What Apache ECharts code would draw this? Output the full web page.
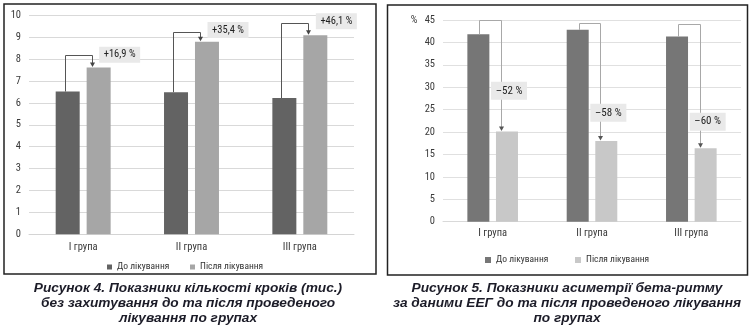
<!DOCTYPE html>
<html><head><meta charset="utf-8">
<script src="https://cdn.jsdelivr.net/npm/echarts@6/dist/echarts.min.js"></script>
<style>html,body{margin:0;padding:0;background:#fff}#c{width:752px;height:325px}</style>
</head><body><div id="c"></div>
<script>
var categories = ['I група', 'II група', 'III група'];
var seriesNames = ['До лікування', 'Після лікування'];
// Figure 4: steps (thousands)
var stepsBefore = [6.52, 6.49, 6.22];
var stepsAfter = [7.62, 8.79, 9.09];
var stepsChange = ['+16,9 %', '+35,4 %', '+46,1 %'];
var stepsBracket = [8.19, 9.25, 9.63];
var stepsLabelLevel = [8.2, 9.33, 9.73];
var stepsTicks = [0, 10, 1];
// Figure 5: beta-rhythm asymmetry (%)
var asymBefore = [41.8, 42.8, 41.3];
var asymAfter = [20.1, 18.0, 16.4];
var asymChange = ['\u201352 %', '\u201358 %', '\u201360 %'];
var asymBracket = [44.9, 44.3, 44.1];
var asymLabelLevel = [29.2, 24.3, 22.3];
var asymTicks = [0, 45, 5];
var asymUnit = '%';
var caption1 = 'Рисунок 4. Показники кількості кроків (тис.)\nбез захитування до та після проведеного\nлікування по групах';
var caption2 = 'Рисунок 5. Показники асиметрії бета-ритму\nза даними ЕЕГ до та після проведеного лікування\nпо групах';

var NARROW = "'Roboto Condensed','DejaVu Sans Condensed',sans-serif";
var CAPTION_FONT = "'Liberation Sans',Arial,sans-serif";

function annotData(before, after, bracket, level) {
  return categories.map(function (c, i) { return [i, before[i], after[i], bracket[i], level[i]]; });
}

function makeAnnot(cfg, labels) {
  return function (params, api) {
    var i = params.dataIndex;
    var cat = api.value(0);
    var half = (cfg.bw + cfg.gap) / 2;
    var d = api.coord([cat, api.value(1)]);
    var l = api.coord([cat, api.value(2)]);
    var yb = api.coord([cat, api.value(3)])[1];
    var yl = api.coord([cat, api.value(4)])[1];
    var darkC = d[0] - half, lightC = l[0] + half;
    var xs = Math.round(darkC + cfg.startOff) + 0.5;
    var xe = Math.round(lightC + cfg.endOff) + 0.5;
    var ybr = Math.round(yb) + 0.5;
    var lt = l[1];
    var bx = cfg.boxCenter ? lightC + cfg.boxDx - cfg.boxW / 2 : lightC + cfg.boxDx;
    return {
      type: 'group',
      children: [
        { type: 'polyline', shape: { points: [[xs, d[1]], [xs, ybr], [xe, ybr], [xe, lt - 4]] },
          style: { stroke: cfg.line, lineWidth: 1, fill: null } },
        { type: 'polygon', shape: { points: [[xe - 2.5, lt - 5], [xe + 2.5, lt - 5], [xe, lt - 0.5]] },
          style: { fill: cfg.arrow } },
        { type: 'rect', shape: { x: bx, y: yl - cfg.boxH / 2, width: cfg.boxW, height: cfg.boxH },
          style: { fill: '#e9e9e9' } },
        { type: 'text', style: { text: labels[i], x: bx + cfg.boxW / 2, y: yl, align: 'center', verticalAlign: 'middle',
          font: cfg.fontSize + 'px ' + NARROW, fill: '#222' } }
      ]
    };
  };
}

var axisLabelStyle = { color: '#3a3a3a', fontSize: 10.5, fontFamily: NARROW };
var legendText = { fontSize: 9.5, color: '#333', fontFamily: NARROW };

var option = {
  animation: false,
  textStyle: { fontFamily: NARROW },
  grid: [
    { left: 29, right: 398, top: 15.3, bottom: 90.7 },
    { left: 443, right: 11, top: 20, bottom: 103.3 }
  ],
  xAxis: [
    { type: 'category', gridIndex: 0, data: categories, axisTick: { show: false },
      axisLine: { lineStyle: { color: '#d4d4d4' } }, axisLabel: Object.assign({ margin: 8 }, axisLabelStyle) },
    { type: 'category', gridIndex: 1, data: categories, axisTick: { show: false },
      axisLine: { lineStyle: { color: '#d9d9d9' } }, axisLabel: Object.assign({ margin: 6 }, axisLabelStyle) }
  ],
  yAxis: [
    { type: 'value', gridIndex: 0, min: stepsTicks[0], max: stepsTicks[1], interval: stepsTicks[2],
      axisLine: { show: false }, axisTick: { show: false },
      splitLine: { lineStyle: { color: '#d9d9d9' } }, axisLabel: Object.assign({ margin: 8 }, axisLabelStyle) },
    { type: 'value', gridIndex: 1, min: asymTicks[0], max: asymTicks[1], interval: asymTicks[2],
      axisLine: { show: false }, axisTick: { show: false },
      splitLine: { lineStyle: { color: '#e0e0e0' } },
      axisLabel: Object.assign({ margin: 8, formatter: function (v) {
        return v === asymTicks[1] ? asymUnit + '   ' + v : String(v);
      } }, axisLabelStyle) }
  ],
  legend: [
    { left: 102, top: 257, itemWidth: 5, itemHeight: 5, itemGap: 0, icon: 'rect',
      data: [{ name: seriesNames[0], itemStyle: { color: '#636363' } }], textStyle: legendText },
    { left: 185, top: 257, itemWidth: 5, itemHeight: 5, itemGap: 0, icon: 'rect',
      data: [{ name: seriesNames[1], itemStyle: { color: '#a6a6a6' } }], textStyle: legendText },
    { left: 480, top: 250, itemWidth: 6, itemHeight: 6, itemGap: 0, icon: 'rect',
      data: [{ name: seriesNames[0], itemStyle: { color: '#767676' } }], textStyle: legendText },
    { left: 570, top: 250, itemWidth: 6, itemHeight: 6, itemGap: 0, icon: 'rect',
      data: [{ name: seriesNames[1], itemStyle: { color: '#c8c8c8' } }], textStyle: legendText }
  ],
  graphic: [
    { type: 'rect', shape: { x: 4, y: 4, width: 372, height: 270 }, style: { fill: null, stroke: '#222', lineWidth: 1.5 } },
    { type: 'rect', shape: { x: 387.5, y: 5, width: 360, height: 270 }, style: { fill: null, stroke: '#222', lineWidth: 1.5 } },
    { type: 'text', x: 188, y: 281, style: { text: caption1, align: 'center', verticalAlign: 'top', lineHeight: 15,
      font: 'italic bold 13.7px ' + CAPTION_FONT, fill: '#1c1c28' } },
    { type: 'text', x: 567, y: 281, style: { text: caption2, align: 'center', verticalAlign: 'top', lineHeight: 15,
      font: 'italic bold 13.7px ' + CAPTION_FONT, fill: '#1c1c28' } }
  ],
  series: [
    { name: seriesNames[0], type: 'bar', xAxisIndex: 0, yAxisIndex: 0, data: stepsBefore, barWidth: 24, barGap: '29%',
      itemStyle: { color: '#636363' } },
    { name: seriesNames[1], type: 'bar', xAxisIndex: 0, yAxisIndex: 0, data: stepsAfter, barWidth: 24, barGap: '29%',
      itemStyle: { color: '#a6a6a6' } },
    { name: seriesNames[0], type: 'bar', xAxisIndex: 1, yAxisIndex: 1, data: asymBefore, barWidth: 22, barGap: '30%',
      itemStyle: { color: '#767676' } },
    { name: seriesNames[1], type: 'bar', xAxisIndex: 1, yAxisIndex: 1, data: asymAfter, barWidth: 22, barGap: '30%',
      itemStyle: { color: '#c8c8c8' } },
    { type: 'custom', xAxisIndex: 0, yAxisIndex: 0, z: 5, clip: false, silent: true,
      data: annotData(stepsBefore, stepsAfter, stepsBracket, stepsLabelLevel),
      renderItem: makeAnnot({ bw: 24, gap: 7, startOff: -3, endOff: -7, line: '#555', arrow: '#444',
        boxW: 41, boxH: 16, boxDx: 0.5, boxCenter: false, fontSize: 10.5 }, stepsChange) },
    { type: 'custom', xAxisIndex: 1, yAxisIndex: 1, z: 5, clip: false, silent: true,
      data: annotData(asymBefore, asymAfter, asymBracket, asymLabelLevel),
      renderItem: makeAnnot({ bw: 22, gap: 6.7, startOff: 1, endOff: -6, line: '#a8a8a8', arrow: '#555',
        boxW: 36, boxH: 18, boxDx: 2, boxCenter: true, fontSize: 11 }, asymChange) }
  ]
};
var chart = echarts.init(document.getElementById('c'), null, { renderer: 'canvas' });
chart.setOption(option);
</script></body></html>
